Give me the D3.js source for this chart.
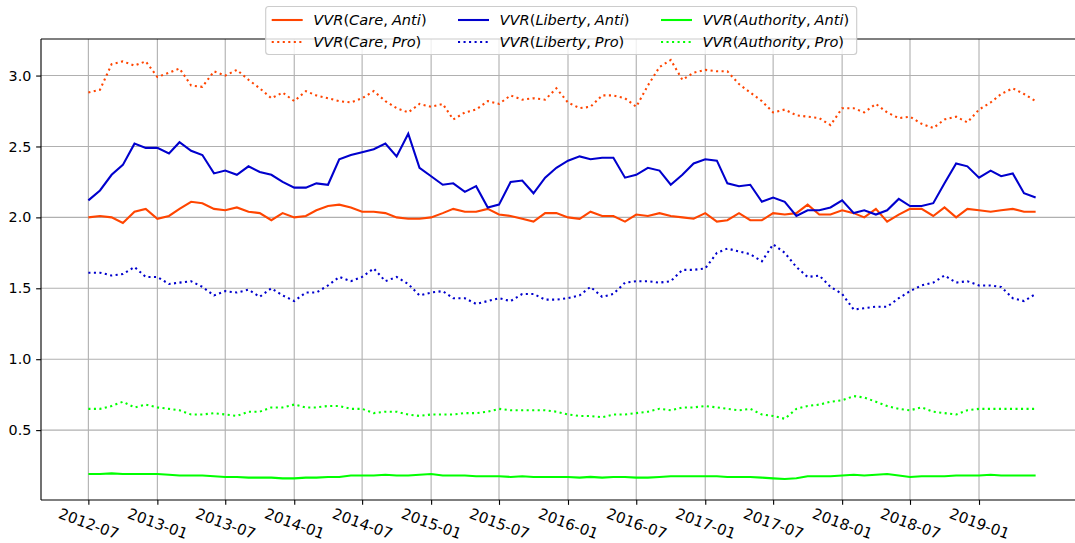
<!DOCTYPE html>
<html><head><meta charset="utf-8">
<script src="https://cdn.jsdelivr.net/npm/d3@7"></script>
<style>
body{margin:0;background:#fff}
svg{display:block}
text{font-family:"DejaVu Sans",sans-serif}
</style>
</head><body>
<svg id="c" width="1075" height="543"></svg>
<script>
// ---- DATA ----
const firstMonth = "2012-07";
const monthCount = 84; // 2012-07 .. 2019-06
const tickLabels = ["2012-07","2013-01","2013-07","2014-01","2014-07","2015-01","2015-07","2016-01","2016-07","2017-01","2017-07","2018-01","2018-07","2019-01"];
const yTicks = [0.5, 1.0, 1.5, 2.0, 2.5, 3.0];

const careAnti = [2.00,2.01,2.00,1.96,2.04,2.06,1.99,2.01,2.06,2.11,2.10,2.06,2.05,2.07,2.04,2.03,1.98,2.03,2.00,2.01,2.05,2.08,2.09,2.07,2.04,2.04,2.03,2.00,
1.99,1.99,2.00,2.03,2.06,2.04,2.04,2.06,2.02,2.01,1.99,1.97,2.03,2.03,2.00,1.99,2.04,2.01,2.01,1.97,2.02,2.01,2.03,2.01,2.00,1.99,2.03,1.97,1.98,2.03,
1.98,1.98,2.03,2.02,2.03,2.09,2.02,2.02,2.05,2.03,2.00,2.06,1.97,2.02,2.06,2.06,2.01,2.07,2.00,2.06,2.05,2.04,2.05,2.06,2.04,2.04];
const carePro = [2.88,2.90,3.08,3.10,3.07,3.10,2.99,3.02,3.05,2.93,2.92,3.03,3.00,3.04,2.97,2.91,2.84,2.88,2.82,2.89,2.86,2.84,2.82,2.81,2.84,2.89,2.82,2.77,
2.74,2.80,2.78,2.80,2.69,2.74,2.76,2.82,2.80,2.86,2.83,2.84,2.83,2.91,2.81,2.77,2.78,2.86,2.86,2.84,2.78,2.93,3.06,3.11,2.97,3.02,3.04,3.03,3.03,2.94,
2.88,2.82,2.74,2.76,2.72,2.71,2.70,2.65,2.77,2.77,2.74,2.80,2.74,2.70,2.71,2.66,2.63,2.69,2.71,2.67,2.76,2.81,2.87,2.91,2.87,2.82];
const libertyAnti = [2.12,2.19,2.30,2.37,2.52,2.49,2.49,2.45,2.53,2.47,2.44,2.31,2.33,2.30,2.36,2.32,2.30,2.25,2.21,2.21,2.24,2.23,2.41,2.44,2.46,2.48,2.52,2.43,
2.59,2.35,2.29,2.23,2.24,2.18,2.22,2.07,2.09,2.25,2.26,2.17,2.28,2.35,2.40,2.43,2.41,2.42,2.42,2.28,2.30,2.35,2.33,2.23,2.30,2.38,2.41,2.40,2.24,2.22,
2.23,2.11,2.14,2.11,2.01,2.05,2.05,2.07,2.12,2.03,2.05,2.02,2.05,2.13,2.08,2.08,2.10,2.24,2.38,2.36,2.28,2.33,2.29,2.31,2.17,2.14];
const libertyPro = [1.61,1.61,1.59,1.60,1.65,1.58,1.58,1.53,1.54,1.55,1.51,1.45,1.48,1.47,1.49,1.44,1.50,1.45,1.41,1.47,1.47,1.52,1.58,1.55,1.58,1.64,1.55,1.58,
1.53,1.45,1.47,1.48,1.43,1.43,1.39,1.41,1.43,1.41,1.46,1.46,1.42,1.42,1.43,1.45,1.51,1.44,1.46,1.54,1.55,1.55,1.54,1.55,1.63,1.63,1.64,1.75,1.78,1.76,
1.74,1.69,1.81,1.75,1.65,1.58,1.59,1.51,1.46,1.35,1.36,1.37,1.37,1.43,1.48,1.52,1.54,1.59,1.54,1.55,1.52,1.52,1.51,1.43,1.41,1.46];
const authorityAnti = [0.19,0.19,0.195,0.19,0.19,0.19,0.19,0.185,0.18,0.18,0.18,0.175,0.17,0.17,0.165,0.165,0.165,0.16,0.16,0.165,0.165,0.17,0.17,0.18,0.18,0.18,0.185,0.18,
0.18,0.185,0.19,0.18,0.18,0.18,0.175,0.175,0.175,0.17,0.175,0.17,0.17,0.17,0.17,0.165,0.17,0.165,0.17,0.17,0.165,0.165,0.17,0.175,0.175,0.175,0.175,0.175,0.17,0.17,
0.17,0.165,0.16,0.155,0.16,0.175,0.175,0.175,0.18,0.185,0.18,0.185,0.19,0.18,0.17,0.175,0.175,0.175,0.18,0.18,0.18,0.185,0.18,0.18,0.18,0.18];
const authorityPro = [0.65,0.65,0.67,0.70,0.66,0.68,0.66,0.65,0.64,0.61,0.61,0.62,0.61,0.60,0.63,0.63,0.66,0.66,0.68,0.66,0.66,0.67,0.67,0.65,0.65,0.62,0.63,0.63,
0.61,0.60,0.61,0.61,0.61,0.62,0.62,0.63,0.65,0.64,0.64,0.64,0.64,0.63,0.61,0.60,0.60,0.59,0.61,0.61,0.62,0.63,0.65,0.64,0.66,0.66,0.67,0.66,0.65,0.64,
0.65,0.61,0.60,0.58,0.65,0.67,0.68,0.70,0.71,0.74,0.73,0.70,0.67,0.65,0.64,0.66,0.63,0.62,0.61,0.64,0.65,0.65,0.65,0.65,0.65,0.65];

const series = [
  {a:"Care", b:"Anti", values:careAnti, color:"orangered", dotted:false},
  {a:"Care", b:"Pro", values:carePro, color:"orangered", dotted:true},
  {a:"Liberty", b:"Anti", values:libertyAnti, color:"mediumblue", dotted:false},
  {a:"Liberty", b:"Pro", values:libertyPro, color:"mediumblue", dotted:true},
  {a:"Authority", b:"Anti", values:authorityAnti, color:"lime", dotted:false},
  {a:"Authority", b:"Pro", values:authorityPro, color:"lime", dotted:true}
];

// ---- LAYOUT ----
const L = 41, R = 1083, T = 39, B = 500;
const pt = 100/72;
const parseM = d3.utcParse("%Y-%m");
const t0 = parseM(firstMonth);
const dates = d3.utcMonth.range(t0, d3.utcMonth.offset(t0, monthCount));
const tEnd = dates[dates.length-1];
const span = tEnd - t0;
const x = d3.scaleUtc().domain([new Date(+t0 - span*0.05), new Date(+tEnd + span*0.05)]).range([L, R]);
const all = series.flatMap(s => s.values);
const vmin = d3.min(all), vmax = d3.max(all), vr = vmax - vmin;
const y = d3.scaleLinear().domain([vmin - 0.05*vr, vmax + 0.05*vr]).range([B, T]);

const svg = d3.select("#c");

// grid
const tickDates = tickLabels.map(parseM);
const g = svg.append("g");
g.selectAll("line.vg").data(tickDates).join("line")
  .attr("x1", d => x(d)).attr("x2", d => x(d)).attr("y1", T).attr("y2", B)
  .attr("stroke", "#b0b0b0").attr("stroke-width", 0.8*pt);
g.selectAll("line.hg").data(yTicks).join("line")
  .attr("x1", L).attr("x2", R).attr("y1", d => y(d)).attr("y2", d => y(d))
  .attr("stroke", "#b0b0b0").attr("stroke-width", 0.8*pt);

// lines
const line = d3.line().x((d,i) => x(dates[i])).y(d => y(d));
svg.append("g").selectAll("path").data(series).join("path")
  .attr("d", s => line(s.values))
  .attr("fill", "none")
  .attr("stroke", s => s.color)
  .attr("stroke-width", 1.5*pt)
  .attr("stroke-dasharray", s => s.dotted ? `${1.5*pt},${2.475*pt}` : null);

// axes
const xAxis = d3.axisBottom(x).tickValues(tickDates).tickFormat(d3.utcFormat("%Y-%m"))
  .tickSize(3.5*pt).tickPadding(3.5*pt);
const gx = svg.append("g").attr("transform", `translate(0,${B})`).call(xAxis);
gx.select(".domain").remove();
gx.selectAll(".tick line").attr("stroke", "#000").attr("stroke-width", 0.8*pt);
gx.selectAll(".tick text")
  .attr("font-size", 15).attr("fill", "#000")
  .attr("y", 0).attr("dy", "0.36em")
  .attr("text-anchor", "middle")
  .attr("transform", "translate(0,23.5) rotate(20)");

const yAxis = d3.axisLeft(y).tickValues(yTicks).tickFormat(d3.format(".1f"))
  .tickSize(3.5*pt).tickPadding(3.5*pt);
const gy = svg.append("g").attr("transform", `translate(${L},0)`).call(yAxis);
gy.select(".domain").remove();
gy.selectAll(".tick line").attr("stroke", "#000").attr("stroke-width", 0.8*pt);
gy.selectAll(".tick text").attr("font-size", 14.3).attr("fill", "#000");

// spines
const sp = svg.append("g").attr("stroke", "#000").attr("stroke-width", 0.8*pt).attr("fill","none");
sp.append("line").attr("x1", L).attr("x2", L).attr("y1", T).attr("y2", B);
sp.append("line").attr("x1", L).attr("x2", R).attr("y1", B).attr("y2", B);
sp.append("line").attr("x1", L).attr("x2", R).attr("y1", T).attr("y2", T);
sp.append("line").attr("x1", R).attr("x2", R).attr("y1", T).attr("y2", B);

// legend
const lg = svg.append("g");
lg.append("rect").attr("x", 265.7).attr("y", 6.5).attr("width", 591).attr("height", 48)
  .attr("rx", 3).attr("fill", "#fff").attr("fill-opacity", 0.8)
  .attr("stroke", "#cccccc").attr("stroke-width", 0.8*pt);
const colX = [271.7, 458, 661];
const rowY = [20, 42];
series.forEach((s, k) => {
  const c = Math.floor(k/2), r = k % 2;
  const xx = colX[c], yy = rowY[r];
  lg.append("line").attr("x1", xx).attr("x2", xx + 31).attr("y1", yy).attr("y2", yy)
    .attr("stroke", s.color).attr("stroke-width", 1.5*pt)
    .attr("stroke-dasharray", s.dotted ? `${1.5*pt},${2.475*pt}` : null);
  const t = lg.append("text").attr("x", xx + 41.6).attr("y", yy).attr("dy", "0.36em")
    .attr("font-size", 14.6).attr("fill", "#000");
  t.append("tspan").attr("font-style", "italic").text("VVR");
  t.append("tspan").text("(");
  t.append("tspan").attr("font-style", "italic").text(s.a);
  t.append("tspan").text(",");
  t.append("tspan").attr("dx", 4).attr("font-style", "italic").text(s.b);
  t.append("tspan").text(")");
});
</script>
</body></html>
